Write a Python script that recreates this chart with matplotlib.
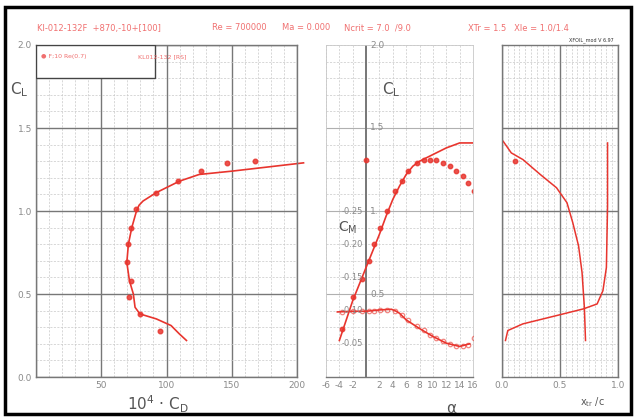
import matplotlib.pyplot as plt
from matplotlib.patches import Rectangle
import numpy as np

# drag polar (10^4 * Cd, CL)
cd_xf = [115.3, 109.8, 103.5, 92.2, 79.6, 75.9, 74.6, 71.6, 69.6, 70.8, 73.4, 77.0, 79.0, 82.0, 92.0, 110.0, 125.0, 150.0, 205.0]
cl_xf_polar = [0.22, 0.26, 0.31, 0.35, 0.38, 0.42, 0.50, 0.58, 0.69, 0.80, 0.90, 1.00, 1.035, 1.06, 1.11, 1.18, 1.22, 1.24, 1.29]
cd_exp = [94.7, 79.6, 71.6, 72.6, 69.6, 70.8, 72.8, 77.0, 92.0, 108.5, 126.1, 146.2, 167.6]
cl_exp_polar = [0.28, 0.38, 0.48, 0.58, 0.69, 0.80, 0.90, 1.01, 1.11, 1.18, 1.24, 1.29, 1.30]

# lift curve
alpha_xf = [-4, -2, 0, 2, 3, 4, 5, 6, 7, 8, 9, 10, 12, 14, 16]
cl_xf = [0.22, 0.46, 0.66, 0.86, 0.97, 1.07, 1.15, 1.22, 1.27, 1.30, 1.32, 1.34, 1.38, 1.41, 1.41]
alpha_exp = [-3.6, -1.9, -0.6, 0.5, 1.2, 2.1, 3.1, 4.3, 5.3, 6.3, 7.6, 8.6, 9.6, 10.5, 11.5, 12.5, 13.5, 14.5, 15.3, 16.1, 0.0]
cl_exp = [0.29, 0.48, 0.59, 0.70, 0.80, 0.90, 1.00, 1.12, 1.18, 1.24, 1.29, 1.31, 1.31, 1.31, 1.29, 1.27, 1.24, 1.21, 1.17, 1.12, 1.31]

# moment curve
alpha_cm_xf = [-4.3, -2, 0, 2, 3.8, 4.5, 5, 6, 8, 10, 12, 14, 15.5]
cm_xf = [-0.098, -0.099, -0.099, -0.101, -0.102, -0.099, -0.096, -0.086, -0.073, -0.061, -0.051, -0.046, -0.050]
alpha_cm_exp = [-3.6, -1.9, -0.6, 0.5, 1.2, 2.1, 3.1, 4.3, 5.3, 6.3, 7.6, 8.6, 9.6, 10.5, 11.5, 12.5, 13.5, 14.5, 15.3, 16.1]
cm_exp = [-0.098, -0.099, -0.099, -0.100, -0.100, -0.101, -0.101, -0.099, -0.093, -0.086, -0.077, -0.071, -0.064,
          -0.059, -0.054, -0.050, -0.047, -0.046, -0.048, -0.058]

# transition location
xtr_top = [0.01, 0.08, 0.18, 0.33, 0.47, 0.56, 0.61, 0.66, 0.69, 0.71, 0.72]
cl_tr_top = [1.42, 1.35, 1.31, 1.22, 1.14, 1.05, 0.93, 0.79, 0.63, 0.42, 0.22]
xtr_bot = [0.03, 0.05, 0.18, 0.47, 0.70, 0.82, 0.87, 0.90, 0.91, 0.91]
cl_tr_bot = [0.22, 0.28, 0.32, 0.37, 0.41, 0.44, 0.52, 0.66, 1.03, 1.41]
xtr_exp = [0.11]
cl_tr_exp = [1.30]

red = '#e8352e'
lred = '#f07070'
W, H = 636, 419

fig = plt.figure(figsize=(6.36, 4.19), dpi=100)


def add_ax(x0, x1, y0, y1):
    return fig.add_axes([x0 / W, 1 - y1 / H, (x1 - x0) / W, (y1 - y0) / H])


def ftext(x, y, s, **kw):
    fig.text(x / W, 1 - y / H, s, **kw)


def style_grid(ax, major_c='#777777', major_lw=1.0):
    ax.grid(which='minor', color='#c8c8c8', lw=0.5, ls=(0, (3, 2)))
    ax.grid(which='major', color=major_c, lw=major_lw)
    ax.set_axisbelow(True)
    ax.tick_params(which='both', length=0, labelsize=6.5, labelcolor='#8a8a8a', pad=3)
    for s in ax.spines.values():
        s.set_color('#777777')
        s.set_linewidth(1.0)


# left: drag polar
ax1 = add_ax(36, 297, 45, 377)
ax1.set_xlim(0, 200)
ax1.set_ylim(0, 2.0)
ax1.set_xticks([0, 50, 100, 150, 200])
ax1.set_xticklabels(['', '50', '100', '150', '200'])
ax1.set_xticks(np.arange(0, 201, 10), minor=True)
ax1.set_yticks([0, 0.5, 1.0, 1.5, 2.0])
ax1.set_yticklabels(['0.0', '0.5', '1.0', '1.5', '2.0'])
ax1.set_yticks(np.arange(0, 2.01, 0.1), minor=True)
style_grid(ax1)
ax1.plot(cd_xf, cl_xf_polar, color=red, lw=1.2, clip_on=False)
ax1.plot(cd_exp, cl_exp_polar, 'o', color=red, ms=3.3, alpha=0.85)
ax1.add_patch(Rectangle((0, 1.8), 91, 0.2, facecolor='white', edgecolor='#444444', lw=1.0, zorder=3))
ax1.text(4, 1.93, '\u25cf F;10 Re(0.7)', color=lred, fontsize=4.5, va='center', zorder=4)
ax1.text(78, 1.93, 'KL012-132 [RS]', color=lred, fontsize=4.5, va='center', zorder=4)

# middle: lift and moment vs alpha
ax2 = add_ax(326, 473, 45, 377)
ax2.set_xlim(-6, 16)
ax2.set_ylim(0, 2.0)
ax2.set_xticks(np.arange(-6, 17, 2))
ax2.set_xticklabels(['-6', '-4', '-2', '', '2', '4', '6', '8', '10', '12', '14', '16'])
ax2.set_yticks([0.5, 1.0, 1.5])
ax2.set_yticklabels([])
ax2.set_yticks(np.arange(0, 2.01, 0.1), minor=True)
style_grid(ax2, major_c='#b0b0b0', major_lw=0.8)
ax2.grid(which='major', axis='x', color='#c8c8c8', lw=0.5, ls=(0, (3, 2)))
for s in ['top', 'left', 'right']:
    ax2.spines[s].set_color('#c8c8c8')
    ax2.spines[s].set_linewidth(0.6)
ax2.axvline(0, color='#777777', lw=1.4)
ax2.plot(alpha_xf, cl_xf, color=red, lw=1.2)
ax2.plot(alpha_exp, cl_exp, 'o', color=red, ms=3.2, alpha=0.85)
for v, s in [(2.0, '2.0'), (1.5, '1.5'), (1.0, '1.'), (0.5, '0.5')]:
    ax2.text(0.6, v, s, color='#8a8a8a', fontsize=6.5, va='center', ha='left')

ax3 = ax2.twinx()
ax3.set_ylim(0, -0.5)
ax3.set_yticks([])
for s in ax3.spines.values():
    s.set_visible(False)
ax3.plot(alpha_cm_xf, cm_xf, color=red, lw=1.2)
ax3.plot(alpha_cm_exp, cm_exp, 'o', color=red, ms=3.2, alpha=0.6, mfc='none', mew=0.9)
for v, s in [(-0.25, '-0.25'), (-0.20, '-0.20'), (-0.15, '-0.15'), (-0.10, '-0.10'), (-0.05, '-0.05')]:
    ax3.text(-0.4, v, s, color='#8a8a8a', fontsize=6.0, va='center', ha='right')

# right: transition
ax4 = add_ax(502, 618, 45, 377)
ax4.set_xlim(0, 1.0)
ax4.set_ylim(0, 2.0)
ax4.set_xticks([0, 0.5, 1.0])
ax4.set_xticklabels(['0.0', '0.5', '1.0'])
ax4.set_xticks(np.arange(0, 1.01, 0.05), minor=True)
ax4.set_yticks([0.5, 1.0, 1.5])
ax4.set_yticklabels([])
ax4.set_yticks(np.arange(0, 2.01, 0.1), minor=True)
style_grid(ax4)
ax4.plot(xtr_top, cl_tr_top, color=red, lw=1.1)
ax4.plot(xtr_bot, cl_tr_bot, color=red, lw=1.1)
ax4.plot(xtr_exp, cl_tr_exp, 'o', color=red, ms=3.2, alpha=0.85)

# labels
ftext(10, 90, 'C$_\\mathregular{L}$', fontsize=11, color='#555555', va='center')
ftext(382, 90, 'C$_\\mathregular{L}$', fontsize=11, color='#555555', va='center')
ftext(338, 228, 'C$_\\mathregular{M}$', fontsize=10, color='#555555', va='center')
ftext(158, 404, '10$^\\mathregular{4}$ \u00b7 C$_\\mathregular{D}$', fontsize=11, color='#555555', ha='center', va='center')
ftext(451, 408, '\u03b1', fontsize=11, color='#555555', ha='center', va='center')
ftext(592, 402, 'x$_\\mathregular{tr}$ /c', fontsize=7, color='#555555', ha='center', va='center')

ftext(37, 28, 'Kl-012-132F  +870,-10+[100]', fontsize=6, color=lred, va='center')
ftext(212, 28, 'Re = 700000', fontsize=6, color=lred, va='center')
ftext(282, 28, 'Ma = 0.000', fontsize=6, color=lred, va='center')
ftext(344, 28, 'Ncrit = 7.0  /9.0', fontsize=6, color=lred, va='center')
ftext(468, 28, 'XTr = 1.5   Xle = 1.0/1.4', fontsize=6, color=lred, va='center')
ftext(614, 40, 'XFOIL_mod V 6.97', fontsize=3.5, color='#333333', ha='right', va='center')

# outer frame
fig.patches.append(Rectangle((5 / W, 1 - 414 / H), 626 / W, 407 / H, transform=fig.transFigure,
                             fill=False, edgecolor='black', lw=2.5))

fig.savefig('out.png', dpi=100)
